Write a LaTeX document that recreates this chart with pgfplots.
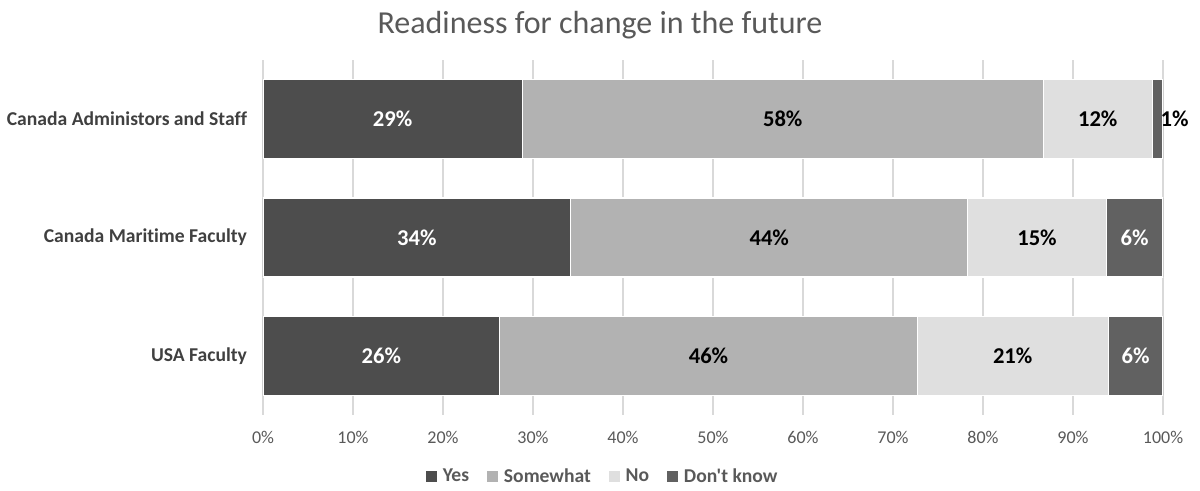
\documentclass[border=0pt]{standalone}
\usepackage{fontspec}
\setmainfont{Carlito}[Ligatures={TeXOff,CommonOff}]
\usepackage{pgfplots}
\usepackage{pgfplotstable}
\pgfplotsset{compat=1.18}
\definecolor{cyes}{HTML}{4D4D4D}
\definecolor{csome}{HTML}{B2B2B2}
\definecolor{cno}{HTML}{DFDFDF}
\definecolor{cdk}{HTML}{616161}
\definecolor{gridc}{HTML}{D9D9D9}
\definecolor{c59}{HTML}{595959}
\definecolor{c40}{HTML}{404040}
% shares (percent) per group
\pgfplotstableread{
idx yes some no dk
0 26.3 46.4 21.2 6.1
1 34.2 44.1 15.4 6.3
2 28.8 57.9 12.1 1.2
}\data
% label positions (centre of each segment) and values
\pgfplotstableread{
idx mid val
0 13.15 26.3
1 17.10 34.2
2 14.40 28.8
}\labyes
\pgfplotstableread{
idx mid val
0 49.50 46.4
1 56.25 44.1
2 57.75 57.9
}\labsome
\pgfplotstableread{
idx mid val
0 83.30 21.2
1 86.00 15.4
2 92.75 12.1
}\labno
\pgfplotstableread{
idx mid val
0 96.95 6.1
1 96.85 6.3
}\labdk
\pgfplotstableread{
idx mid val
2 101.3 1.2
}\labdkout
\pgfplotsset{
  commonax/.style={
    at={(0pt,0pt)}, anchor=south west,
    scale only axis, width=450pt, height=177.5pt,
    xmin=0, xmax=100, ymin=-0.5, ymax=2.5,
  },
  lbl/.style={
    only marks, mark=none, point meta=\thisrow{val},
    nodes near coords={\pgfmathprintnumber[fixed,precision=0,assume math mode=true]{\pgfplotspointmeta}\%},
    nodes near coords style={anchor=center, inner sep=0pt, font=\bfseries\fontsize{11.3}{13}\selectfont, text=#1},
  },
}
\begin{document}
\begin{tikzpicture}
\useasboundingbox (-131.5pt,-38pt) rectangle (468.5pt,207.5pt);
\begin{axis}[
  commonax,
  xbar stacked, bar width=39.5pt,
  xtick={0,10,...,100},
  xticklabels={0\%,10\%,20\%,30\%,40\%,50\%,60\%,70\%,80\%,90\%,100\%},
  ytick={0,1,2},
  yticklabels={USA Faculty, Canada Maritime Faculty, Canada Administors and Staff},
  axis line style={draw=none},
  major tick style={draw=none},
  xmajorgrids, grid style={color=gridc, line width=0.9pt},
  xticklabel style={font=\fontsize{9}{11}\selectfont, text=c59, anchor=center, yshift=-11pt},
  yticklabel style={font=\bfseries\fontsize{9.8}{11}\selectfont, text=c40, anchor=east, xshift=-4.5pt},
  legend style={at={(0.378,-0.1745)}, anchor=center, legend columns=4, draw=none, fill=none,
    font=\bfseries\fontsize{9.8}{11}\selectfont, text=c59,
    nodes={inner xsep=1.5pt},
    /tikz/every odd column/.append style={column sep=1.5pt},
    /tikz/every even column/.append style={column sep=7.4pt}},
  legend image code/.code={\fill[#1,draw=none] (0pt,-2.75pt) rectangle (5.5pt,2.75pt);},
]
\addplot[fill=cyes, draw=white, line width=0.6pt] table[x=yes, y=idx] {\data};
\addplot[fill=csome, draw=white, line width=0.6pt] table[x=some, y=idx] {\data};
\addplot[fill=cno, draw=white, line width=0.6pt] table[x=no, y=idx] {\data};
\addplot[fill=cdk, draw=white, line width=0.6pt] table[x=dk, y=idx] {\data};
\legend{Yes, Somewhat, No, Don't know}
\end{axis}
\begin{axis}[commonax, hide axis, clip=false]
\addplot[lbl=white] table[x=mid, y=idx] {\labyes};
\addplot[lbl=black] table[x=mid, y=idx] {\labsome};
\addplot[lbl=black] table[x=mid, y=idx] {\labno};
\addplot[lbl=white] table[x=mid, y=idx] {\labdk};
\addplot[lbl=black] table[x=mid, y=idx] {\labdkout};
\end{axis}
\node[font=\fontsize{16}{19}\selectfont, text=c59] at (168.5pt,195pt) {Readiness for change in the future};
\end{tikzpicture}
\end{document}
